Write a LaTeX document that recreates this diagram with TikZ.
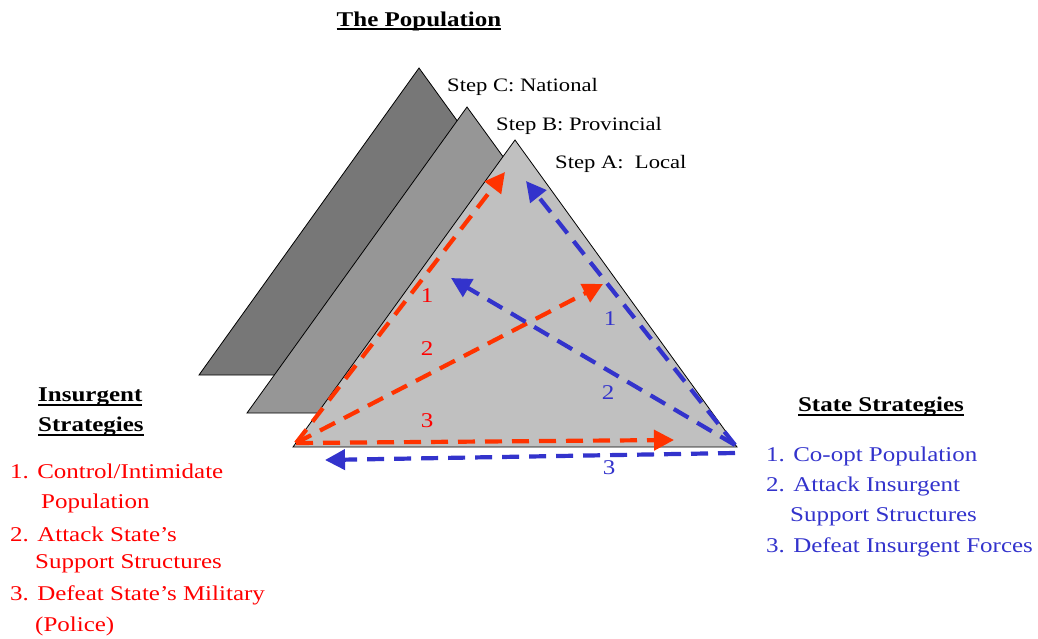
\documentclass[tikz,border=0pt]{standalone}
\usepackage{fontspec}
\setmainfont{Liberation Serif}[FakeStretch=1.19]
\usetikzlibrary{arrows.meta}
\definecolor{arred}{HTML}{FF3300}
\definecolor{txred}{HTML}{FF0000}
\definecolor{arblue}{HTML}{3333CC}
\definecolor{gback}{HTML}{777777}
\definecolor{gmid}{HTML}{969696}
\definecolor{gfront}{HTML}{C0C0C0}
\newcommand{\thickul}[1]{\begingroup\setbox0\hbox{#1}\dimen0=\wd0 \copy0\kern-\dimen0\rule[-4pt]{\dimen0}{1.8pt}\endgroup}
\tikzset{
  tri/.style={draw=black, line width=0.8pt, line join=miter},
  rarr/.style={draw=arred, line width=4.2pt, dash pattern=on 17pt off 10pt, -{Triangle[length=20pt,width=20pt]}},
  barr/.style={draw=arblue, line width=4.2pt, dash pattern=on 17pt off 10pt, -{Triangle[length=20pt,width=20pt]}},
  lbl/.style={font=\fontsize{21}{25}\selectfont, inner sep=0pt},
  rl/.style={lbl, text=txred},
  bl/.style={lbl, text=arblue},
  head/.style={font=\fontsize{21}{25}\selectfont\bfseries, inner sep=0pt},
  lst/.style={font=\fontsize{21}{25}\selectfont, inner sep=0pt, anchor=west},
  stp/.style={font=\fontsize{19}{23}\selectfont, inner sep=0pt, anchor=west}
}
\begin{document}
\begin{tikzpicture}[x=1pt,y=-1pt]
\useasboundingbox (0,0) rectangle (1038,639);
% triangles
\coordinate (Cl) at (199,375); \coordinate (Ct) at (419,68); \coordinate (Cr) at (641,375);
\coordinate (Bl) at (247,413); \coordinate (Bt) at (467,107); \coordinate (Br) at (689,413);
\coordinate (Al) at (293,447); \coordinate (At) at (515,140); \coordinate (Ar) at (737,447);
\fill[gback,tri] (Cl) -- (Ct) -- (Cr) -- cycle;
\fill[gmid,tri] (Bl) -- (Bt) -- (Br) -- cycle;
\fill[gfront,tri] (Al) -- (At) -- (Ar) -- cycle;
% arrow endpoints
\coordinate (r0) at (296,443);
\coordinate (r1) at (505,172);
\coordinate (r2) at (603,284);
\coordinate (r3) at (674,440);
\coordinate (b0) at (735,445);
\coordinate (b1) at (526,181);
\coordinate (b2) at (451,278);
\coordinate (b3s) at (735,453);
\coordinate (b3) at (325,460);
\draw[rarr] (r0) -- (r1);
\draw[rarr] (r0) -- (r2);
\draw[rarr] (r0) -- (r3);
\draw[barr] (b0) -- (b1);
\draw[barr] (b0) -- (b2);
\draw[barr] (b3s) -- (b3);
% arrow labels
\node[rl] (rn1) at (427,296) {1};
\node[rl] (rn2) at (427,349) {2};
\node[rl] (rn3) at (427,421) {3};
\node[bl] (bn1) at (610,319) {1};
\node[bl] (bn2) at (608,393) {2};
\node[bl] (bn3) at (609,468) {3};
% titles
\node[head] (pop) at (419,21) {\thickul{The Population}};
\node[stp] (sc) at (447,87) {Step C: National};
\node[stp] (sb) at (496,126) {Step B: Provincial};
\node[stp] (sa) at (555,164) {Step A:\ \ Local};
\node[head, anchor=west] (ins1) at (38,397) {\thickul{Insurgent}};
\node[head, anchor=west] (ins2) at (38,427) {\thickul{Strategies}};
\node[lst, text=txred] (i1) at (10,471) {1. Control/Intimidate};
\node[lst, text=txred] (i1b) at (41,503) {Population};
\node[lst, text=txred] (i2) at (10,534) {2. Attack State’s};
\node[lst, text=txred] (i2b) at (35,564) {Support Structures};
\node[lst, text=txred] (i3) at (10,595) {3. Defeat State’s Military};
\node[lst, text=txred] (i3b) at (35,626) {(Police)};
\node[head] (st) at (881,407) {\thickul{State Strategies}};
\node[lst, text=arblue] (s1) at (766,456) {1. Co-opt Population};
\node[lst, text=arblue] (s2) at (766,486) {2. Attack Insurgent};
\node[lst, text=arblue] (s2b) at (790,517) {Support Structures};
\node[lst, text=arblue] (s3) at (766,547) {3. Defeat Insurgent Forces};
\end{tikzpicture}
\end{document}
